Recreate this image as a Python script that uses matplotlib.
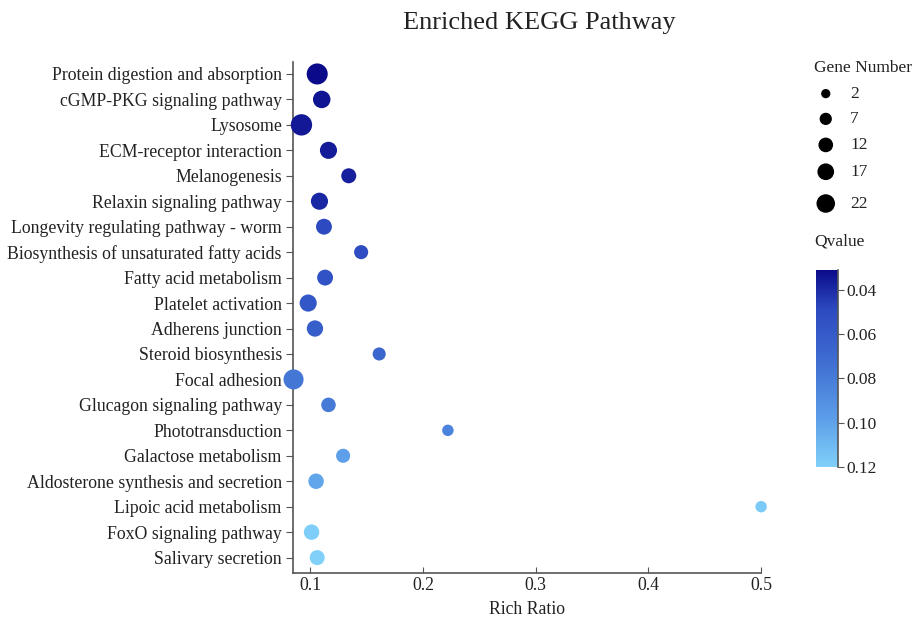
import numpy as np
import matplotlib
matplotlib.use("Agg")
import matplotlib.pyplot as plt
from matplotlib.colors import LinearSegmentedColormap, Normalize

# pathways, top to bottom
pathways = [
    "Protein digestion and absorption",
    "cGMP-PKG signaling pathway",
    "Lysosome",
    "ECM-receptor interaction",
    "Melanogenesis",
    "Relaxin signaling pathway",
    "Longevity regulating pathway - worm",
    "Biosynthesis of unsaturated fatty acids",
    "Fatty acid metabolism",
    "Platelet activation",
    "Adherens junction",
    "Steroid biosynthesis",
    "Focal adhesion",
    "Glucagon signaling pathway",
    "Phototransduction",
    "Galactose metabolism",
    "Aldosterone synthesis and secretion",
    "Lipoic acid metabolism",
    "FoxO signaling pathway",
    "Salivary secretion",
]
rich_ratio = [0.106, 0.110, 0.092, 0.116, 0.134, 0.108, 0.112, 0.145, 0.113, 0.098,
              0.104, 0.161, 0.085, 0.116, 0.222, 0.129, 0.105, 0.500, 0.101, 0.106]
gene_number = [28, 18, 29, 17, 12, 17, 14, 10, 14, 17,
               15, 8, 25, 11, 5, 10, 13, 5, 13, 12]
qvalue = [0.031, 0.034, 0.035, 0.036, 0.037, 0.039, 0.049, 0.051, 0.054, 0.058,
          0.063, 0.068, 0.077, 0.079, 0.084, 0.099, 0.101, 0.117, 0.119, 0.120]

legend_counts = [2, 7, 12, 17, 22]
cbar_ticks = [0.04, 0.06, 0.08, 0.10, 0.12]

plt.rcParams['font.family'] = ['Liberation Serif', 'DejaVu Serif']

cmap = LinearSegmentedColormap.from_list(
    "kegg", [(0.0, "#0a0a8a"), (0.2, "#2d4ac0"), (0.45, "#3d6bd0"),
             (0.75, "#5b9de8"), (1.0, "#80d0fa")])
norm = Normalize(vmin=0.031, vmax=0.12)


def marker_size(n):
    # area grows linearly with gene number (pixel diameter -> points^2)
    return 0.5184 * (63 + 13.55 * np.asarray(n, dtype=float))


fig = plt.figure(figsize=(9.17, 6.2), dpi=100)
ax = fig.add_axes([0.3195, 0.076, 0.5105, 0.824])

ypos = np.arange(len(pathways))[::-1]
ax.scatter(rich_ratio, ypos, s=marker_size(gene_number), c=qvalue,
           cmap=cmap, norm=norm, linewidths=0, zorder=3, clip_on=False)

ax.set_xlim(0.0845, 0.5)
ax.set_ylim(-0.6, len(pathways) - 0.53)
ax.set_yticks(ypos)
ax.set_yticklabels(pathways, fontsize=12.8, color="#222222")
ax.set_xticks([0.1, 0.2, 0.3, 0.4, 0.5])
ax.set_xticklabels(["0.1", "0.2", "0.3", "0.4", "0.5"], fontsize=12.8, color="#222222")
ax.set_xlabel("Rich Ratio", fontsize=12.8, color="#222222", labelpad=5)

for side in ["top", "right"]:
    ax.spines[side].set_visible(False)
for side in ["left", "bottom"]:
    ax.spines[side].set_color("#555555")
    ax.spines[side].set_linewidth(1.2)
ax.tick_params(axis="y", direction="out", length=5, color="#555555", pad=3)
ax.tick_params(axis="x", direction="in", length=4, color="#555555", pad=3)

fig.text(0.588, 0.963, "Enriched KEGG Pathway", ha="center", va="center",
         fontsize=19, color="#222222")

# size legend
fig.text(0.888, 0.89, "Gene Number", ha="left", va="center", fontsize=12.5, color="#222222")
lax = fig.add_axes([0.888, 0.66, 0.05, 0.21])
lax.set_xlim(0, 1)
lax.set_ylim(len(legend_counts) - 0.5, -0.5)
lax.axis("off")
ly = [0, 0.97, 1.97, 3.0, 4.22]
lax.scatter([0.25] * len(legend_counts), ly, s=marker_size(legend_counts) * 0.95,
            color="black", linewidths=0, clip_on=False)
for yy, n in zip(ly, legend_counts):
    lax.text(0.78, yy, str(n), ha="left", va="center", fontsize=12.5, color="#222222")

# qvalue colorbar
fig.text(0.888, 0.61, "Qvalue", ha="left", va="center", fontsize=12.5, color="#222222")
cax = fig.add_axes([0.890, 0.247, 0.024, 0.318])
sm = plt.cm.ScalarMappable(cmap=cmap, norm=norm)
cb = fig.colorbar(sm, cax=cax, ticks=cbar_ticks)
cb.ax.invert_yaxis()
cb.outline.set_visible(False)
cb.ax.set_yticklabels(["0.04", "0.06", "0.08", "0.10", "0.12"])
cb.ax.tick_params(length=4, color="#555555", labelsize=12.5, labelcolor="#222222", pad=2)
cb.ax.plot([1, 1], [0, 1], transform=cb.ax.transAxes, color="#555555",
           linewidth=1.2, clip_on=False)

fig.savefig("out.png", dpi=100)
